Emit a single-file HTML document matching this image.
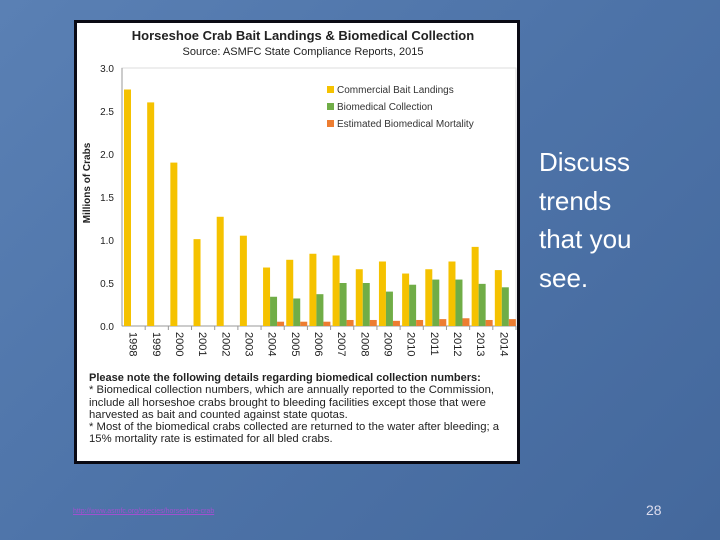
<!DOCTYPE html>
<html><head><meta charset="utf-8"><style>
body{margin:0;width:720px;height:540px;overflow:hidden;background:linear-gradient(135deg,#5a80b4 0%,#4d73a8 50%,#44689c 100%);font-family:"Liberation Sans",sans-serif;position:relative}
#frame{position:absolute;left:74px;top:20px;width:440px;height:438px;border:3px solid #0a0a14;background:#fff}
#notes{position:absolute;left:12px;top:349px;width:428px;font-size:11.3px;line-height:12.3px;color:#222;white-space:nowrap}
#notes b{font-size:11px}
#discuss{position:absolute;left:539px;top:143px;color:#fff;font-size:26px;line-height:38.5px}
#link{position:absolute;left:73px;top:508px;font-size:7px;color:#a050d0;text-decoration:underline}
#pg{position:absolute;left:646px;top:502px;font-size:14px;color:#dde}
</style></head><body>
<div id="frame">
<svg id="chart" width="440" height="345" style="position:absolute;left:0;top:0">
<text x="226" y="17" text-anchor="middle" font-size="13" font-weight="bold" fill="#222">Horseshoe Crab Bait Landings &amp; Biomedical Collection</text>
<text x="226" y="32" text-anchor="middle" font-size="11" fill="#222">Source: ASMFC State Compliance Reports, 2015</text>
<text transform="translate(13,160) rotate(-90)" text-anchor="middle" font-size="10" font-weight="bold" fill="#222">Millions of Crabs</text>
<g id="g"></g>
<g>
<rect x="250" y="63" width="7" height="7" fill="#f5c200"/><text x="260" y="70" font-size="10" fill="#333">Commercial Bait Landings</text>
<rect x="250" y="80" width="7" height="7" fill="#70ad47"/><text x="260" y="87" font-size="10" fill="#333">Biomedical Collection</text>
<rect x="250" y="97" width="7" height="7" fill="#ed7d31"/><text x="260" y="104" font-size="10" fill="#333">Estimated Biomedical Mortality</text>
</g>
</svg>
<div id="notes"><b>Please note the following details regarding biomedical collection numbers:</b><br>* Biomedical collection numbers, which are annually reported to the Commission,<br>include all horseshoe crabs brought to bleeding facilities except those that were<br>harvested as bait and counted against state quotas.<br>* Most of the biomedical crabs collected are returned to the water after bleeding; a<br>15% mortality rate is estimated for all bled crabs.</div>
</div>
<div id="discuss">Discuss<br>trends<br>that you<br>see.</div>
<div id="link">http://www.asmfc.org/species/horseshoe-crab</div>
<div id="pg">28</div>
<script>
const years=["1998","1999","2000","2001","2002","2003","2004","2005","2006","2007","2008","2009","2010","2011","2012","2013","2014"];
const bait=[2.75,2.6,1.9,1.01,1.27,1.05,0.68,0.77,0.84,0.82,0.66,0.75,0.61,0.66,0.75,0.92,0.65];
const bio=[0,0,0,0,0,0,0.34,0.32,0.37,0.5,0.5,0.4,0.48,0.54,0.54,0.49,0.45];
const mort=[0,0,0,0,0,0,0.05,0.05,0.05,0.07,0.07,0.06,0.07,0.08,0.09,0.07,0.08];
const yTicks=[0,0.5,1.0,1.5,2.0,2.5,3.0];
const NS="http://www.w3.org/2000/svg",g=document.getElementById('g');
const x0=45,x1=439,y0=303,yTop=45;
const y=v=>y0-(v/3)*(y0-yTop);
const step=(x1-x0)/years.length;
function el(t,a,p){const e=document.createElementNS(NS,t);for(const k in a)e.setAttribute(k,a[k]);(p||g).appendChild(e);return e;}
el('rect',{x:x0,y:yTop,width:x1-x0,height:y0-yTop,fill:'none',stroke:'#ddd'});
el('line',{x1:x0,y1:yTop,x2:x0,y2:y0,stroke:'#999'});
el('line',{x1:x0,y1:y0,x2:x1,y2:y0,stroke:'#999'});
yTicks.forEach(t=>{const e=el('text',{x:x0-8,y:y(t)+4,'text-anchor':'end','font-size':10,fill:'#222'});e.textContent=t.toFixed(1);

});
const bw=7;
years.forEach((yr,i)=>{const cx=x0+step*i;
const s=[[bait,'#f5c200','bar-bait-'],[bio,'#70ad47','bar-biomedical-'],[mort,'#ed7d31','bar-mortality-']];
s.forEach((ss,j)=>{const v=ss[0][i];if(v<=0)return;const r=el('rect',{x:cx+2+j*bw,y:y(v),width:bw,height:y0-y(v),fill:ss[1]});

});
el('line',{x1:cx+step,y1:y0,x2:cx+step,y2:y0+4,stroke:'#999'});
const t=el('text',{transform:`translate(${cx+step/2-4},${y0+6}) rotate(90)`,'font-size':11,fill:'#222'});t.textContent=yr;

});
</script>
</body></html>
